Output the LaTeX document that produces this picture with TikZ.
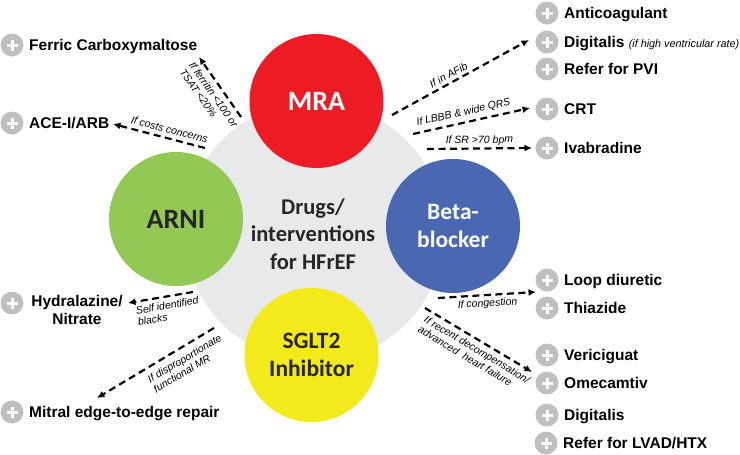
\documentclass[tikz,border=0pt]{standalone}
\usepackage{fontspec}
\setmainfont{Liberation Sans}
\newfontfamily\calfont{Carlito}
\usetikzlibrary{arrows.meta}
\definecolor{mrared}{HTML}{ED1C24}
\definecolor{arnigreen}{HTML}{92C853}
\definecolor{betablue}{HTML}{4A67B1}
\definecolor{sgltyellow}{HTML}{F2EA1B}
\definecolor{bggray}{HTML}{E8E9EB}
\definecolor{plusgray}{HTML}{BFBFBF}
\definecolor{darktext}{HTML}{262626}
\begin{document}
\begin{tikzpicture}[x=1pt,y=-1pt,
  hub/.style={circle, minimum size=134pt, inner sep=0pt, align=center},
  icon/.style={circle, fill=plusgray, minimum size=23pt, inner sep=0pt,
    path picture={
      \draw[white,line width=3pt] ([xshift=-5.5pt]path picture bounding box.center) -- ([xshift=5.5pt]path picture bounding box.center);
      \draw[white,line width=3pt] ([yshift=-5.5pt]path picture bounding box.center) -- ([yshift=5.5pt]path picture bounding box.center);}},
  item/.style={anchor=base west, inner sep=0pt, text=black, font=\bfseries\fontsize{15.5}{17.5}\selectfont},
  arr/.style={line width=2.2pt, dash pattern=on 7pt off 4.5pt, -{Latex[length=7.5pt,width=7pt]}},
  labtext/.style={inner sep=1pt, align=left, font=\itshape\fontsize{10.5}{11.5}\selectfont},
  lab/.style={labtext, sloped}
]
\useasboundingbox (0,0) rectangle (740,455);

% central disc and hubs
\node[circle, fill=bggray, minimum size=260pt, inner sep=0pt] (core) at (314,232) {};
\node[hub, fill=mrared, text=white, font=\calfont\bfseries\fontsize{28}{30}\selectfont] (mra) at (316.5,101) {MRA};
\node[hub, fill=arnigreen, text=darktext, font=\calfont\bfseries\fontsize{28}{30}\selectfont] (arni) at (176,219) {ARNI};
\node[hub, fill=betablue, text=white, font=\calfont\bfseries\fontsize{23.5}{28}\selectfont] (beta) at (453,226) {Beta-\\blocker};
\node[hub, fill=sgltyellow, text=darktext, font=\calfont\bfseries\fontsize{23.5}{28}\selectfont] (sglt) at (311.5,355) {SGLT2\\Inhibitor};
\node[align=center, text=darktext, inner sep=0pt, font=\calfont\bfseries\fontsize{22.5}{27.5}\selectfont] (title) at (313,234) {Drugs/\\interventions\\for HFrEF};

% right items
\node[icon] (ir1) at (547,13) {};   \node[item] (anti) at (564,18.6) {Anticoagulant};
\node[icon] (ir2) at (547,42) {};   \node[item] (digi1) at (564,47.6) {Digitalis \textmd{\itshape\fontsize{10.8}{12}\selectfont (if high ventricular rate)}};
\node[icon] (ir3) at (547,69) {};   \node[item] (pvi) at (564,74.6) {Refer for PVI};
\node[icon] (ir4) at (547,109) {};  \node[item] (crt) at (564,114.6) {CRT};
\node[icon] (ir5) at (547,148) {};  \node[item] (ivab) at (564,153.6) {Ivabradine};
\node[icon] (ir6) at (547,280) {};  \node[item] (loop) at (564,285.6) {Loop diuretic};
\node[icon] (ir7) at (547,308) {};  \node[item] (thia) at (564,313.6) {Thiazide};
\node[icon] (ir8) at (547,355) {};  \node[item] (veri) at (564,360.6) {Vericiguat};
\node[icon] (ir9) at (547,383) {};  \node[item] (omec) at (564,388.6) {Omecamtiv};
\node[icon] (ir10) at (547,415) {}; \node[item] (digi2) at (564,420.6) {Digitalis};
\node[icon] (ir11) at (546,443) {}; \node[item] (lvad) at (563,448.6) {Refer for LVAD/HTX};

% left items
\node[icon] (il1) at (12,45) {};  \node[item] (ferric) at (29,50.6) {Ferric Carboxymaltose};
\node[icon] (il2) at (12,123) {}; \node[item] (ace) at (29,128.6) {ACE-I/ARB};
\node[icon] (il3) at (12,303) {}; \node[anchor=center, inner sep=0pt, align=center, text=black, font=\bfseries\fontsize{15.5}{17.5}\selectfont] (hydra) at (77,310) {Hydralazine/\\Nitrate};
\node[icon] (il4) at (12,412) {}; \node[item] (mitral) at (29,417.6) {Mitral edge-to-edge repair};

% connector end points
\coordinate (s1) at (241,117); \coordinate (e1) at (199,57);
\coordinate (s2) at (205,148); \coordinate (e2) at (113,124);
\coordinate (s3) at (392,115); \coordinate (e3) at (529,40);
\coordinate (s4) at (413,134); \coordinate (e4) at (530,108);
\coordinate (s5) at (427,149); \coordinate (e5) at (532,148);
\coordinate (s6) at (438,298); \coordinate (e6) at (536,292);
\coordinate (s7) at (425,308); \coordinate (e7) at (532,372);
\coordinate (s8) at (193,292); \coordinate (e8) at (128,303);
\coordinate (s9) at (214,328); \coordinate (e9) at (97,398);

\draw[arr] (s1) -- (e1);
\node[labtext, rotate=-55] (lferr) at (209,98) {If ferritin <100 or\\TSAT <20\%};
\draw[arr] (s2) -- node[lab, pos=0.41, above=3pt] {If costs concerns} (e2);
\draw[arr] (s3) -- node[lab, pos=0.44, above=2pt] {If in AFib} (e3);
\draw[arr] (s4) -- node[lab, pos=0.45, above=3pt] {If LBBB \& wide QRS} (e4);
\draw[arr] (s5) -- node[lab, pos=0.5, above=1pt] {If SR >70 bpm} (e5);
\draw[arr] (s6) -- node[lab, pos=0.5, below=2pt] {If congestion} (e6);
\draw[arr] (s7) -- node[lab, pos=0.53, below=3pt] {If recent decompensation/\\advanced~ heart failure} (e7);
\draw[arr] (s8) -- node[lab, pos=0.42, below=3pt] {Self identified\\blacks} (e8);
\draw[arr] (s9) -- node[lab, pos=0.3, below=5pt] {If disproportionate\\functional MR} (e9);
\end{tikzpicture}
\end{document}
